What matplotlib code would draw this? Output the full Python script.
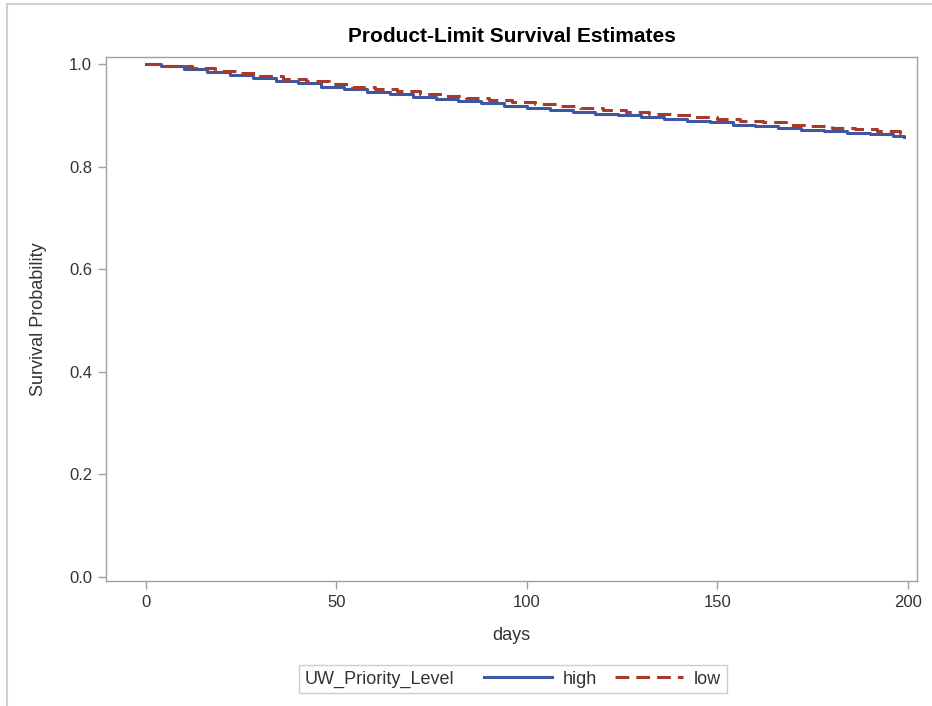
import matplotlib.pyplot as plt
from matplotlib.lines import Line2D
from matplotlib.offsetbox import HPacker

plt.rcParams['font.family'] = ['Liberation Sans', 'DejaVu Sans']

# Kaplan-Meier step estimates
t_high = [0, 4, 10, 16, 22, 28, 34, 40, 46, 52, 58, 64, 70, 76, 82, 88, 94,
          100, 106, 112, 118, 124, 130, 136, 142, 148, 154, 160, 166, 172,
          178, 184, 190, 196, 199]
s_high = [1.000, 0.996, 0.990, 0.984, 0.979, 0.973, 0.967, 0.962, 0.956,
          0.951, 0.946, 0.941, 0.936, 0.932, 0.927, 0.923, 0.919, 0.915,
          0.911, 0.907, 0.903, 0.900, 0.896, 0.893, 0.889, 0.886, 0.882,
          0.879, 0.876, 0.872, 0.869, 0.866, 0.863, 0.859, 0.857]

t_low = [0, 5, 12, 18, 24, 30, 36, 42, 48, 54, 60, 66, 72, 78, 84, 90, 96,
         102, 108, 114, 120, 126, 132, 138, 144, 150, 156, 162, 168, 174,
         180, 186, 192, 198, 199]
s_low = [1.000, 0.997, 0.992, 0.987, 0.982, 0.976, 0.971, 0.966, 0.961,
         0.956, 0.951, 0.947, 0.942, 0.938, 0.934, 0.930, 0.926, 0.922,
         0.918, 0.914, 0.910, 0.907, 0.903, 0.900, 0.896, 0.893, 0.889,
         0.886, 0.882, 0.879, 0.876, 0.873, 0.870, 0.866, 0.863]

blue = '#3F56A0'
red = '#A83A2C'
grey = '#A0A0A0'
txt = '#333333'
dash = (4.5, 2.3)

fig = plt.figure(figsize=(9.32, 7.06), dpi=100)
ax = fig.add_axes([106 / 932, 1 - 581 / 706, (917 - 106) / 932, (581 - 57) / 706])

ax.step(t_high, s_high, where='post', color=blue, lw=2.2, label='high')
ax.step(t_low, s_low, where='post', color=red, lw=2.2, dashes=dash, label='low')

ax.set_xlim(-10.5, 202.4)
ax.set_ylim(-0.0078, 1.0136)
ax.set_xticks([0, 50, 100, 150, 200])
ax.set_yticks([0.0, 0.2, 0.4, 0.6, 0.8, 1.0])
ax.set_yticklabels(['0.0', '0.2', '0.4', '0.6', '0.8', '1.0'])
ax.tick_params(length=6, width=1, color=grey, labelcolor=txt, labelsize=12, pad=4)
for sp in ax.spines.values():
    sp.set_color(grey)
    sp.set_linewidth(1)

ax.set_title('Product-Limit Survival Estimates', fontsize=15, fontweight='bold', pad=11)
ax.set_xlabel('days', fontsize=13, color=txt, labelpad=12)
ax.set_ylabel('Survival Probability', fontsize=13, color=txt, labelpad=16)

# legend with the group name placed to the left of the entries
fs = 13
handles = [Line2D([], [], color=blue, lw=2.2),
           Line2D([], [], color=red, lw=2.2, dashes=dash)]
leg = fig.legend(handles, ['high', 'low'], ncol=2, title='UW_Priority_Level',
                 loc='center', bbox_to_anchor=(513 / 932, 1 - 679 / 706),
                 frameon=True, fancybox=False, edgecolor='#C0C0C0',
                 fontsize=fs, title_fontsize=fs, handlelength=3.8,
                 columnspacing=0.95, handletextpad=0.6, borderpad=0.3)
leg.get_frame().set_linewidth(1)
for t in leg.get_texts():
    t.set_color(txt)
leg.get_title().set_color(txt)
box = HPacker(pad=0.3 * fs, sep=21, align='center',
              children=[leg._legend_title_box, leg._legend_handle_box])
box.set_figure(fig)
box.set_offset(leg._findoffset)
leg._legend_box = box

# outer frame of the output
fig.add_artist(Line2D([7 / 932, 7 / 932], [0, 1 - 4 / 706], color='#D0D0D0', lw=1.5))
fig.add_artist(Line2D([7 / 932, 1], [1 - 4 / 706, 1 - 4 / 706], color='#D0D0D0', lw=1.5))

fig.savefig('out.png', dpi=100)
